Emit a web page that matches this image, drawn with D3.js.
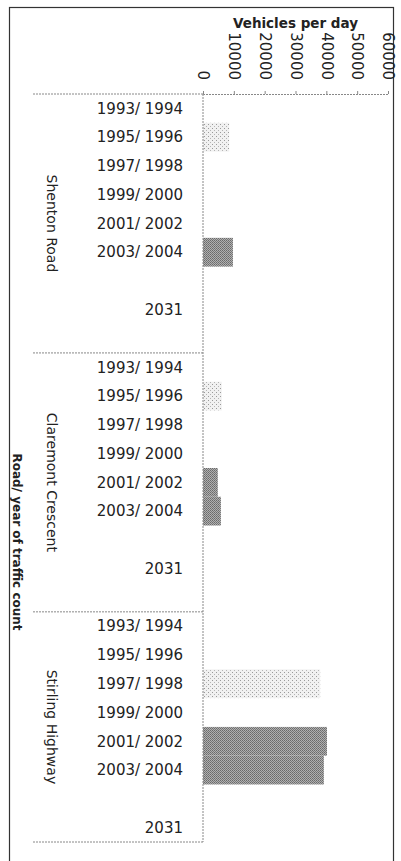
<!DOCTYPE html>
<html>
<head>
<meta charset="utf-8">
<script src="https://cdn.jsdelivr.net/npm/d3@7"></script>
<style>
  html, body { margin: 0; padding: 0; background: #fff; }
  svg { display: block; }
  text { fill: #222; }
</style>
</head>
<body>
<svg id="chart" width="401" height="861"></svg>
<script>
// Traffic counts, vehicles per day, by road and survey year
const roads = ["Shenton Road", "Claremont Crescent", "Stirling Highway"];
const yearSlots = ["1993/ 1994", "1995/ 1996", "1997/ 1998", "1999/ 2000", "2001/ 2002", "2003/ 2004", "", "2031", ""];
const shentonRoad = [null, 8500, null, null, null, 9700, null, null, null];
const claremontCrescent = [null, 6100, null, null, 4800, 5800, null, null, null];
const stirlingHighway = [null, null, 38000, null, 40200, 39200, null, null];
const valueTicks = [0, 10000, 20000, 30000, 40000, 50000, 60000];
const lightYears = ["1993/ 1994", "1995/ 1996", "1997/ 1998", "1999/ 2000"];

const seriesByRoad = [shentonRoad, claremontCrescent, stirlingHighway];

// flatten into one row per category slot
const rows = [];
roads.forEach((road, gi) => {
  seriesByRoad[gi].forEach((v, i) => {
    rows.push({ key: road + "|" + i, road, year: yearSlots[i], value: v });
  });
});

const svg = d3.select("#chart");
const font = "'DejaVu Sans', sans-serif";

// textures for the bars
const defs = svg.append("defs");
const light = defs.append("pattern").attr("id", "lightFill")
  .attr("patternUnits", "userSpaceOnUse").attr("width", 4).attr("height", 4);
light.append("rect").attr("width", 4).attr("height", 4).attr("fill", "#f1f1f1");
light.append("rect").attr("x", 0).attr("y", 0).attr("width", 1).attr("height", 1).attr("fill", "#9a9a9a");
light.append("rect").attr("x", 2).attr("y", 2).attr("width", 1).attr("height", 1).attr("fill", "#b5b5b5");
const dark = defs.append("pattern").attr("id", "darkFill")
  .attr("patternUnits", "userSpaceOnUse").attr("width", 2).attr("height", 2);
dark.append("rect").attr("width", 2).attr("height", 2).attr("fill", "#b0b0b0");
dark.append("rect").attr("x", 0).attr("y", 0).attr("width", 1).attr("height", 1).attr("fill", "#6a6a6a");
dark.append("rect").attr("x", 1).attr("y", 1).attr("width", 1).attr("height", 1).attr("fill", "#787878");

const x = d3.scaleLinear().domain([0, 60000]).range([203, 388]);
const y = d3.scaleBand().domain(rows.map(d => d.key)).range([94, 842]).padding(0);

// outer frame
svg.append("rect").attr("x", 9.5).attr("y", 7.5).attr("width", 384).attr("height", 870)
  .attr("fill", "none").attr("stroke", "#333").attr("stroke-width", 1.2);

// bars
svg.append("g").selectAll("rect")
  .data(rows.filter(d => d.value != null))
  .join("rect")
  .attr("x", x(0))
  .attr("y", d => y(d.key))
  .attr("width", d => x(d.value) - x(0))
  .attr("height", y.bandwidth())
  .attr("fill", d => lightYears.includes(d.year) ? "url(#lightFill)" : "url(#darkFill)");

// value axis along the top
const xAxis = svg.append("g").attr("transform", "translate(0,94)")
  .call(d3.axisTop(x).tickValues(valueTicks).tickSize(3).tickFormat(d3.format("d")));
xAxis.select(".domain").attr("stroke", "#888").attr("stroke-dasharray", "2,1");
xAxis.selectAll(".tick line").attr("stroke", "#888");
xAxis.selectAll(".tick text")
  .attr("x", 0).attr("y", 0).attr("dy", "0.35em")
  .attr("transform", "translate(0,-14) rotate(90)")
  .attr("text-anchor", "end")
  .attr("font-family", font).attr("font-size", 15).attr("fill", "#222");

svg.append("text")
  .attr("x", (x(0) + x(60000)) / 2).attr("y", 28)
  .attr("text-anchor", "middle")
  .attr("font-family", font).attr("font-weight", "bold").attr("font-size", 13.5)
  .text("Vehicles per day");

// category axis line
svg.append("line")
  .attr("x1", x(0)).attr("x2", x(0)).attr("y1", y.range()[0]).attr("y2", y.range()[1])
  .attr("stroke", "#888").attr("stroke-dasharray", "2,1");

// group separators
const groupEdges = roads.map(r => y(r + "|0")).concat([y.range()[1]]);
svg.append("g").selectAll("line").data(groupEdges).join("line")
  .attr("x1", 33).attr("x2", x(0)).attr("y1", d => d).attr("y2", d => d)
  .attr("stroke", "#888").attr("stroke-dasharray", "2,1");

// year labels
svg.append("g").selectAll("text")
  .data(rows.filter(d => d.year !== ""))
  .join("text")
  .attr("x", 183)
  .attr("y", d => y(d.key) + y.bandwidth() / 2)
  .attr("dy", "0.35em")
  .attr("text-anchor", "end")
  .attr("font-family", font).attr("font-size", 15)
  .text(d => d.year);

// road names
svg.append("g").selectAll("text")
  .data(roads)
  .join("text")
  .attr("transform", (r, gi) => {
    const top = groupEdges[gi], bottom = groupEdges[gi + 1];
    return `translate(52,${(top + bottom) / 2}) rotate(90)`;
  })
  .attr("dy", "0.35em")
  .attr("text-anchor", "middle")
  .attr("font-family", font).attr("font-size", 14)
  .text(r => r);

// category axis title
svg.append("text")
  .attr("transform", "translate(17,542) rotate(90)")
  .attr("dy", "0.35em")
  .attr("text-anchor", "middle")
  .attr("font-family", font).attr("font-weight", "bold").attr("font-size", 12)
  .text("Road/ year of traffic count");
</script>
</body>
</html>
